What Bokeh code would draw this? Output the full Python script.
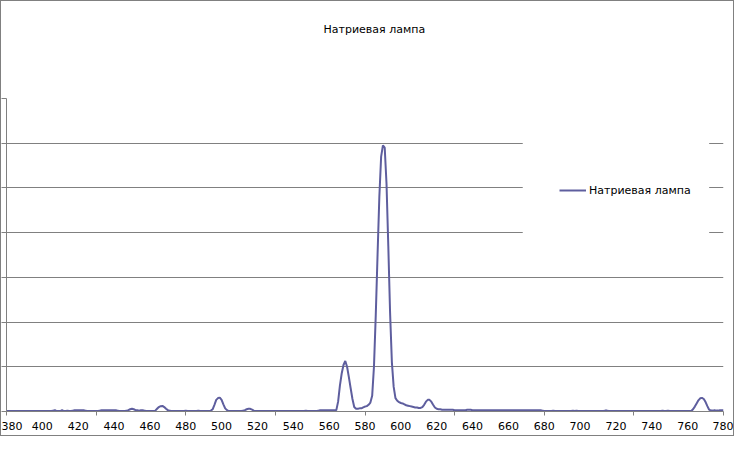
from bokeh.plotting import figure
from bokeh.models import FixedTicker, Legend, LegendItem, Range1d, BoxAnnotation, Title
from bokeh.embed import file_html
from bokeh.resources import INLINE

# ---- data ----
title_text = "Натриевая лампа"
series_name = "Натриевая лампа"
wavelengths = list(range(380, 781))
intensity = [
    # 380-389
    0.1, 0.1, 0.1, 0.1, 0.1, 0.1, 0.1, 0.1, 0.1, 0.1,
    # 390-399
    0.1, 0.1, 0.1, 0.1, 0.1, 0.1, 0.1, 0.1, 0.1, 0.1,
    # 400-409
    0.1, 0.1, 0.1, 0.1, 0.1, 0.1, 0.2, 0.3, 0.1, 0.1,
    # 410-419
    0.1, 0.3, 0.1, 0.1, 0.2, 0.1, 0.1, 0.2, 0.3, 0.3,
    # 420-429
    0.3, 0.3, 0.3, 0.3, 0.2, 0.1, 0.1, 0.1, 0.1, 0.1,
    # 430-439
    0.1, 0.1, 0.2, 0.3, 0.3, 0.3, 0.3, 0.3, 0.3, 0.3,
    # 440-449
    0.3, 0.3, 0.2, 0.1, 0.1, 0.1, 0.1, 0.2, 0.3, 0.5,
    # 450-459
    0.6, 0.5, 0.3, 0.3, 0.2, 0.3, 0.3, 0.2, 0.1, 0.1,
    # 460-469
    0.1, 0.1, 0.1, 0.2, 0.6, 1.0, 1.2, 1.25, 1.0, 0.6,
    # 470-479
    0.3, 0.2, 0.1, 0.1, 0.1, 0.1, 0.1, 0.1, 0.1, 0.1,
    # 480-489
    0.2, 0.1, 0.1, 0.1, 0.1, 0.1, 0.1, 0.2, 0.1, 0.1,
    # 490-499
    0.1, 0.1, 0.1, 0.1, 0.2, 0.5, 1.5, 2.6, 3.0, 3.1,
    # 500-509
    2.6, 1.6, 0.7, 0.3, 0.1, 0.1, 0.1, 0.1, 0.1, 0.1,
    # 510-519
    0.1, 0.1, 0.2, 0.3, 0.5, 0.6, 0.6, 0.4, 0.2, 0.1,
    # 520-529
    0.1, 0.1, 0.1, 0.1, 0.1, 0.1, 0.1, 0.1, 0.1, 0.1,
    # 530-539
    0.1, 0.1, 0.1, 0.1, 0.1, 0.1, 0.1, 0.1, 0.1, 0.1,
    # 540-549
    0.1, 0.1, 0.1, 0.1, 0.1, 0.1, 0.1, 0.2, 0.1, 0.1,
    # 550-559
    0.1, 0.1, 0.1, 0.1, 0.2, 0.3, 0.3, 0.3, 0.3, 0.3,
    # 560-569
    0.3, 0.3, 0.3, 0.3, 0.3, 2.2, 5.8, 8.5, 10.4, 11.3,
    # 570-579
    10.0, 7.7, 5.2, 2.8, 1.0, 0.6, 0.6, 0.7, 0.7, 0.9,
    # 580-589
    1.1, 1.2, 1.5, 2.0, 3.5, 10.0, 21.5, 35.0, 48.0, 57.0,
    # 590-599
    59.5, 59.0, 51.0, 37.0, 22.0, 11.0, 5.5, 3.0, 2.4, 2.1,
    # 600-609
    1.9, 1.8, 1.6, 1.4, 1.3, 1.2, 1.1, 1.0, 0.9, 0.9,
    # 610-619
    0.8, 0.8, 1.0, 1.5, 2.2, 2.6, 2.6, 2.2, 1.5, 0.9,
    # 620-629
    0.6, 0.5, 0.5, 0.4, 0.4, 0.4, 0.4, 0.4, 0.4, 0.4,
    # 630-639
    0.3, 0.3, 0.3, 0.3, 0.3, 0.3, 0.3, 0.4, 0.4, 0.4,
    # 640-649
    0.3, 0.3, 0.3, 0.3, 0.3, 0.3, 0.3, 0.3, 0.3, 0.3,
    # 650-659
    0.3, 0.3, 0.3, 0.3, 0.3, 0.3, 0.3, 0.3, 0.3, 0.3,
    # 660-669
    0.3, 0.3, 0.3, 0.3, 0.3, 0.3, 0.3, 0.3, 0.3, 0.3,
    # 670-679
    0.3, 0.3, 0.3, 0.3, 0.3, 0.3, 0.3, 0.3, 0.3, 0.2,
    # 680-689
    0.1, 0.1, 0.1, 0.1, 0.1, 0.2, 0.1, 0.1, 0.1, 0.1,
    # 690-699
    0.1, 0.1, 0.1, 0.1, 0.1, 0.1, 0.2, 0.1, 0.2, 0.1,
    # 700-709
    0.1, 0.1, 0.1, 0.1, 0.1, 0.1, 0.1, 0.1, 0.1, 0.1,
    # 710-719
    0.1, 0.1, 0.1, 0.1, 0.2, 0.2, 0.1, 0.1, 0.1, 0.1,
    # 720-729
    0.1, 0.1, 0.1, 0.1, 0.1, 0.1, 0.1, 0.1, 0.1, 0.1,
    # 730-739
    0.1, 0.1, 0.1, 0.1, 0.1, 0.1, 0.1, 0.1, 0.1, 0.1,
    # 740-749
    0.1, 0.1, 0.1, 0.1, 0.1, 0.1, 0.2, 0.1, 0.1, 0.2,
    # 750-759
    0.1, 0.1, 0.1, 0.1, 0.1, 0.1, 0.1, 0.1, 0.1, 0.1,
    # 760-769
    0.1, 0.1, 0.1, 0.5, 1.1, 1.8, 2.5, 2.95, 3.05, 2.8,
    # 770-779
    2.1, 1.2, 0.4, 0.2, 0.2, 0.3, 0.2, 0.2, 0.3, 0.3,
    # 780
    0.3,
]
x_label_ticks = list(range(380, 781, 20))
x_mark_ticks = [380, 430, 480, 530, 580, 630, 680, 730, 780]
y_ticks = [0, 10, 20, 30, 40, 50, 60, 70]

GRAY = "#808080"
LINE = "#5E5E9E"
FONT = "DejaVu Sans"

p = figure(width=734, height=436, output_backend="svg", toolbar_location=None,
           x_range=Range1d(380, 780), y_range=Range1d(0, 70),
           min_border_left=5, min_border_right=12, min_border_top=97,
           min_border_bottom=26, outline_line_color=None,
           background_fill_color="white", border_fill_color="white",
           styles={"border": "1px solid #808080"})

# empty spacer between the title and the plot area
spacer = Title(text=" ", standoff=28, text_font=FONT, text_font_size="11px")
p.add_layout(spacer, "above")

p.title.text = title_text
p.title.align = "left"
p.title.offset = 317
p.title.standoff = 39
p.title.text_font = FONT
p.title.text_font_size = "11px"
p.title.text_font_style = "normal"
p.title.text_color = "#000000"

r = p.line(wavelengths, intensity, line_color=LINE, line_width=2)

# x axis: labels every 20, tick marks every 50
xt = FixedTicker(ticks=x_label_ticks, minor_ticks=x_mark_ticks)
p.xaxis.ticker = xt
p.xaxis.major_tick_out = 0
p.xaxis.major_tick_in = 0
p.xaxis.minor_tick_out = 4
p.xaxis.minor_tick_in = 0
p.xaxis.minor_tick_line_color = GRAY
p.xaxis.axis_line_color = GRAY
p.xaxis.major_label_standoff = 6
p.xaxis.major_label_text_font = FONT
p.xaxis.major_label_text_font_size = "11px"
p.xaxis.major_label_text_color = "#000000"
p.xgrid.visible = False

# y axis: its labels fall outside the picture in the reference
yt = FixedTicker(ticks=y_ticks, minor_ticks=[])
p.yaxis.ticker = yt
p.yaxis.major_label_overrides = {t: "" for t in y_ticks}
p.yaxis.major_tick_out = 5
p.yaxis.major_tick_in = 0
p.yaxis.major_tick_line_color = GRAY
p.yaxis.axis_line_color = GRAY
p.yaxis.major_label_standoff = 0
p.yaxis.minor_tick_line_color = None
p.ygrid.ticker = yt
p.ygrid.grid_line_color = GRAY
p.ygrid.grid_line_width = 1

# white area behind the legend (hides the grid lines there)
legend_bg = BoxAnnotation(left=668, right=772, bottom=34, top=67,
                          fill_color="white", fill_alpha=1.0, line_color=None,
                          level="overlay")
p.add_layout(legend_bg)

legend = Legend(items=[LegendItem(label=series_name, renderers=[r])],
                location=(553, 211), glyph_width=27, glyph_height=20,
                label_height=20, label_standoff=3, padding=0, spacing=0,
                margin=0, border_line_color=None,
                background_fill_alpha=0.0,
                label_text_font=FONT, label_text_font_size="11px",
                label_text_color="#000000")
p.add_layout(legend)

open("out.html", "w").write(file_html(p, INLINE))
